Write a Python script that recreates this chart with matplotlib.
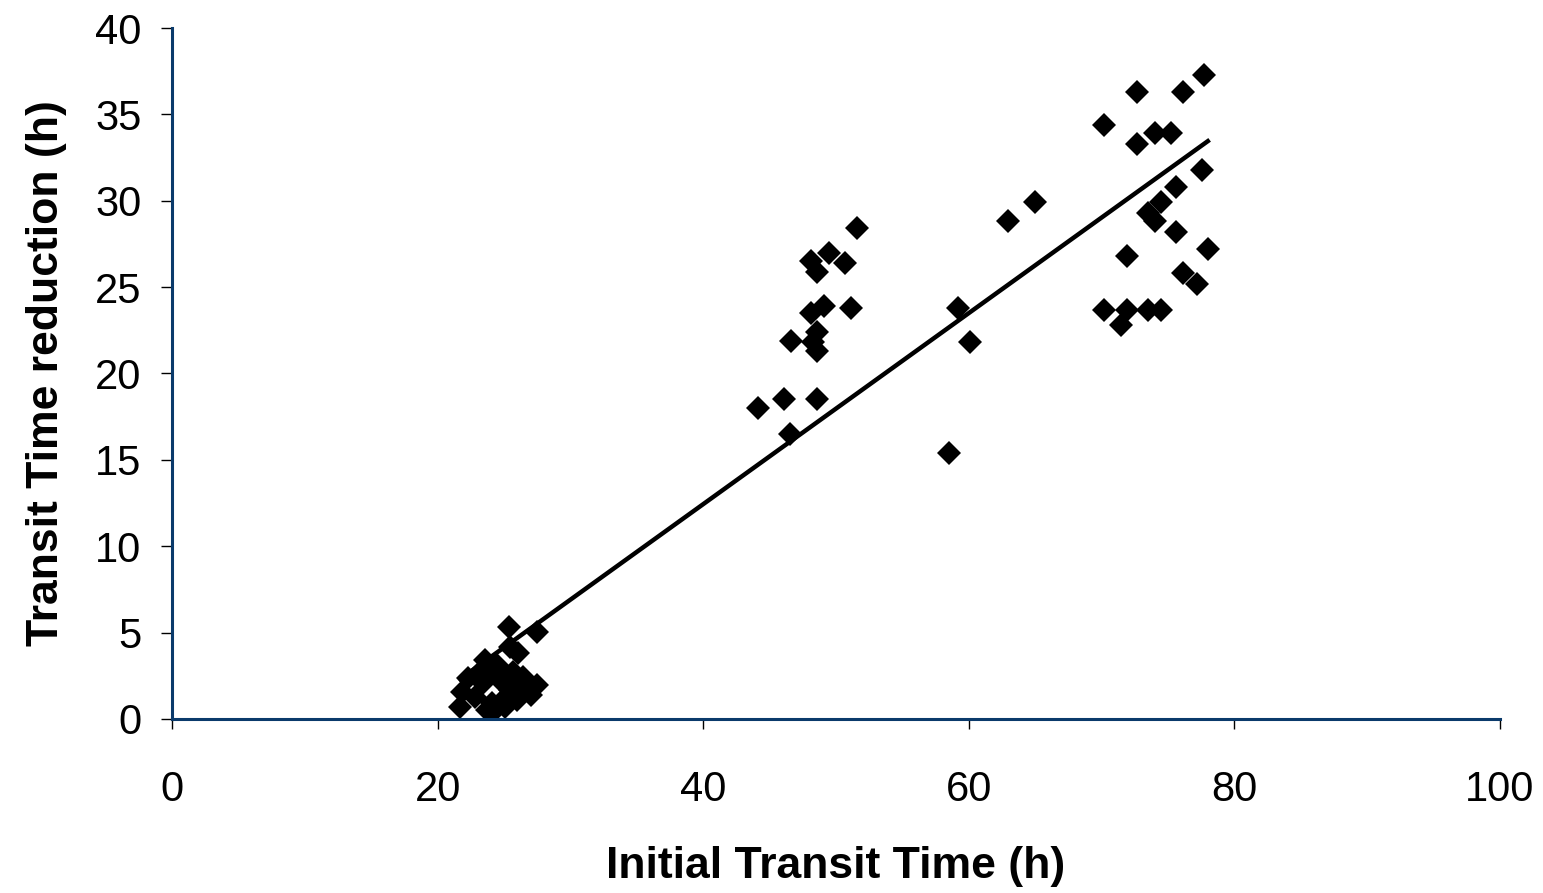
import matplotlib.pyplot as plt
import numpy as np

# valores (tempo inicial x reducao do tempo de transito)
tempo_inicial = [
    # grupo ~22-28 h
    25.4, 25.45, 23.6, 24.5, 26.05, 27.5, 27.5, 27.0, 26.4, 25.7,
    22.3, 21.8, 21.7, 22.8, 23.4, 24.1, 24.2, 23.7, 24.9, 25.45,
    24.7, 24.1, 23.2, 25.1, 26.0, 26.35,
    # grupo ~44-52 h
    51.6, 49.5, 50.7, 48.1, 48.6, 49.1, 51.1, 48.1, 46.6, 48.6,
    48.3, 48.6, 44.1, 46.1, 48.6, 46.5,
    # grupo ~58-65 h
    65.0, 62.95, 59.2, 60.1, 58.5,
    # grupo ~70-78 h
    70.2, 72.7, 72.7, 74.0, 75.2, 76.1, 77.7, 77.6, 75.6, 74.5,
    73.5, 74.0, 75.6, 78.0, 71.9, 76.1, 77.2, 70.2, 71.9, 71.5,
    73.5, 74.5,
]
reducao = [
    5.35, 4.17, 3.42, 3.13, 3.8, 5.04, 1.97, 1.39, 2.43, 2.7,
    2.37, 1.57, 0.7, 1.28, 2.09, 0.93, 0.41, 0.52, 1.1, 1.68,
    2.26, 2.67, 2.73, 0.7, 1.1, 1.97,
    28.4, 27.0, 26.4, 26.5, 25.9, 23.9, 23.8, 23.5, 21.9, 22.4,
    21.8, 21.3, 18.0, 18.5, 18.5, 16.5,
    29.9, 28.8, 23.8, 21.8, 15.4,
    34.4, 36.3, 33.3, 33.9, 33.9, 36.3, 37.3, 31.8, 30.8, 29.9,
    29.3, 28.8, 28.2, 27.2, 26.8, 25.8, 25.2, 23.7, 23.7, 22.8,
    23.7, 23.7,
]

x = np.array(tempo_inicial)
y = np.array(reducao)

# linha de tendencia (minimos quadrados) no intervalo dos dados
a, b = np.polyfit(x, y, 1)
xl = np.array([x.min(), x.max()])

plt.rcParams['font.family'] = ['Liberation Sans', 'DejaVu Sans']

fig = plt.figure(figsize=(15.43, 8.93), dpi=100)
ax = fig.add_axes([0.1115, 0.1949, 0.8606, 0.7737])

ax.plot(x, y, 'D', color='black', markersize=12, markeredgewidth=0)
ax.plot(xl, a * xl + b, color='black', linewidth=3.2)

ax.set_xlim(0, 100)
ax.set_ylim(0, 40)
ax.set_xticks(np.arange(0, 101, 20))
ax.set_yticks(np.arange(0, 41, 5))

for lado in ['top', 'right']:
    ax.spines[lado].set_visible(False)
for lado in ['left', 'bottom']:
    ax.spines[lado].set_color('#0a3a6b')
    ax.spines[lado].set_linewidth(2.2)

ax.tick_params(axis='x', direction='out', length=7, width=1, color='black',
               labelsize=30, pad=30)
ax.tick_params(axis='y', direction='out', length=8, width=1, color='black',
               labelsize=30, pad=14)

ax.set_xlabel('Initial Transit Time (h)', fontsize=32, fontweight='bold', labelpad=26)
ax.set_ylabel('Transit Time reduction (h)', fontsize=32, fontweight='bold', labelpad=20)

fig.savefig('out.png', dpi=100)
